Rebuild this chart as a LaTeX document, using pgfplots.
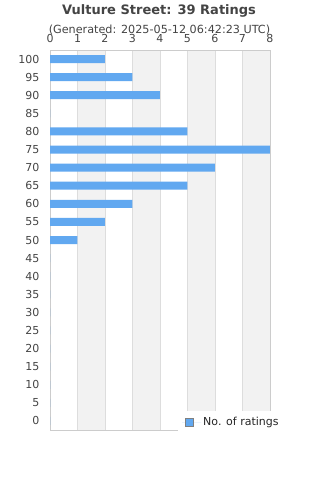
\documentclass[border=0pt]{standalone}
\usepackage{pgfplots}
\pgfplotsset{compat=1.18}
\usepackage{fontspec}
\setmainfont{DejaVu Sans}
\definecolor{barblue}{RGB}{97,168,240}
\definecolor{band}{RGB}{242,242,242}
\definecolor{gridc}{RGB}{221,221,221}
\definecolor{borderc}{RGB}{204,204,204}
\definecolor{txt}{RGB}{68,68,68}
\begin{document}
\begin{tikzpicture}
\path (0bp,0bp) rectangle (320bp,-480bp);
\node[font=\bfseries\fontsize{13bp}{15bp}\selectfont, text=txt] at (159bp,-11bp) {Vulture Street: 39 Ratings};
\node[font=\fontsize{11.2bp}{13bp}\selectfont, text=txt] at (159.5bp,-30bp) {(Generated: 2025-05-12 06:42:23 UTC)};
\begin{axis}[
  set layers,
  at={(50bp,-50bp)}, anchor=north west,
  scale only axis, width=220bp, height=380bp,
  xmin=0, xmax=8, ymin=-0.5, ymax=20.5,
  xtick={0,...,8}, xticklabel pos=top,
  ytick={0,...,20},
  yticklabels={0,5,10,15,20,25,30,35,40,45,50,55,60,65,70,75,80,85,90,95,100},
  major tick length=0,
  xmajorgrids, grid style={draw=gridc, line width=0.8bp},
  axis line style={draw=borderc, line width=0.8bp},
  /pgf/number format/assume math mode=true,
  tick label style={font=\fontsize{11bp}{13bp}\selectfont, text=txt},
  yticklabel style={xshift=-7bp},
  xticklabel style={yshift=4bp},
  legend style={at={(0.582,0.05)}, anchor=north west, draw=none, fill=white,
    font=\fontsize{11bp}{13bp}\selectfont, text=black!85, inner xsep=4bp, inner ysep=4bp},
  legend image code/.code={\path (0bp,0bp) -- (19bp,0bp);\draw[fill=barblue,draw=gray] (3bp,-4.5bp) rectangle (11bp,3.5bp);},
]
\begin{pgfonlayer}{axis background}
\fill[band] (axis cs:1,-0.5) rectangle (axis cs:2,20.5);
\fill[band] (axis cs:3,-0.5) rectangle (axis cs:4,20.5);
\fill[band] (axis cs:5,-0.5) rectangle (axis cs:6,20.5);
\fill[band] (axis cs:7,-0.5) rectangle (axis cs:8,20.5);
\end{pgfonlayer}
\addplot[xbar, bar width=8bp, fill=barblue, draw=none] coordinates {
 (2,20) (3,19) (4,18) (0,17) (5,16) (8,15) (6,14) (5,13) (3,12) (2,11) (1,10)
 (0,9) (0,8) (0,7) (0,6) (0,5) (0,4) (0,3) (0,2) (0,1) (0,0)};
\addlegendentry{No. of ratings}
\end{axis}
\end{tikzpicture}
\end{document}
